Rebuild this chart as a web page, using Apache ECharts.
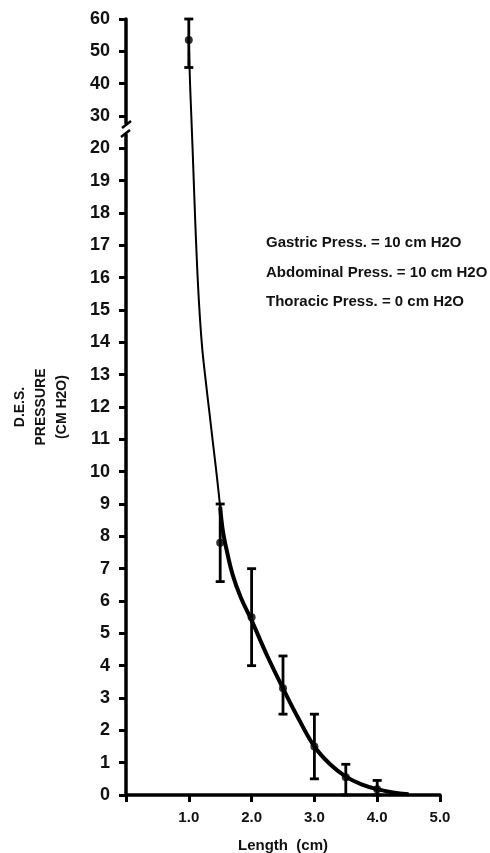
<!DOCTYPE html>
<html lang="en">
<head>
    <meta charset="UTF-8">
    <script src="https://cdn.jsdelivr.net/npm/echarts@6/dist/echarts.min.js"></script>
    <title>D.E.S. pressure vs length</title>
    <style>
        *{ margin: 0; padding: 0; }
        #chart{ width: 490px; height: 853px; background: #fff; }
    </style>
</head>
<body>
    <div id="chart"></div>
<script>
    // measured points (length in cm, pressure in cm H2O)
    var lengths = [1.0, 1.5, 2.0, 2.5, 3.0, 3.5, 4.0];
    var meanPress = [53.5, 7.8, 5.5, 3.3, 1.5, 0.55, 0.18];
    var upperPress = [60, 9.0, 7.0, 4.3, 2.5, 0.95, 0.45];
    var lowerPress = [45, 6.6, 4.0, 2.5, 0.5, 0, 0];

    // fitted curve, thin upper part and thick lower part
    var curveThinX = [1.0, 1.02, 1.04, 1.06, 1.09, 1.12, 1.16, 1.21, 1.27, 1.33, 1.39, 1.45, 1.5, 1.54];
    var curveThinY = [53.5, 40, 30, 20, 18.4, 16.9, 15.3, 13.9, 12.8, 11.8, 10.8, 9.8, 8.9, 8.2];
    var curveThickX = [1.5, 1.54, 1.6, 1.7, 1.83, 2.0, 2.25, 2.5, 2.75, 3.0, 3.25, 3.5, 3.75, 4.0, 4.25, 4.5];
    var curveThickY = [8.9, 8.2, 7.6, 6.8, 6.1, 5.4, 4.3, 3.3, 2.35, 1.5, 0.95, 0.57, 0.33, 0.18, 0.08, 0.02];

    var notes = ['Gastric Press. = 10 cm H2O', 'Abdominal Press. = 10 cm H2O', 'Thoracic Press. = 0 cm H2O'];

    // broken axis: 0-20 linear, then 30,40,50,60 one step each
    function tf(v) {
        return v <= 20 ? v : 20 + (v - 20) / 10;
    }
    function yLabel(v) {
        return v <= 20 ? String(v) : String(20 + (v - 20) * 10);
    }

    var font = 'Liberation Sans, Arial, sans-serif';
    var chart = echarts.init(document.getElementById('chart'));

    var errData = lengths.map(function (x, i) {
        return [x, tf(lowerPress[i]), tf(upperPress[i])];
    });

    var option = {
        backgroundColor: '#fff',
        animation: false,
        grid: { left: 126, right: 50, top: 19, bottom: 58, containLabel: false, outerBoundsMode: 'none' },
        xAxis: {
            type: 'value', min: 0, max: 5, interval: 1,
            name: 'Length  (cm)', nameLocation: 'middle', nameGap: 43,
            nameTextStyle: { fontFamily: font, fontWeight: 'bold', fontSize: 15, color: '#111' },
            axisLine: { lineStyle: { color: '#000', width: 3.5 } },
            axisTick: { length: 7, lineStyle: { color: '#000', width: 3 } },
            axisLabel: {
                margin: 15, fontFamily: font, fontWeight: 'bold', fontSize: 15, color: '#111',
                formatter: function (v) { return v === 0 ? '' : v.toFixed(1); }
            },
            splitLine: { show: false }
        },
        yAxis: {
            type: 'value', min: 0, max: 24, interval: 1,
            axisLine: { show: true, lineStyle: { color: '#000', width: 3.5 } },
            axisTick: { show: true, length: 7, lineStyle: { color: '#000', width: 3 } },
            axisLabel: {
                margin: 16, fontFamily: font, fontWeight: 'bold', fontSize: 18, color: '#111',
                formatter: yLabel
            },
            splitLine: { show: false }
        },
        series: [
            {
                type: 'line', smooth: 0.4, symbol: 'none',
                lineStyle: { color: '#000', width: 2 },
                data: curveThinX.map(function (x, i) { return [x, tf(curveThinY[i])]; })
            },
            {
                type: 'line', smooth: 0.4, symbol: 'none',
                lineStyle: { color: '#000', width: 4 },
                data: curveThickX.map(function (x, i) { return [x, tf(curveThickY[i])]; })
            },
            {
                type: 'custom',
                renderItem: function (params, api) {
                    var lo = api.coord([api.value(0), api.value(1)]);
                    var hi = api.coord([api.value(0), api.value(2)]);
                    var w = 4.5;
                    var st = { stroke: '#000', lineWidth: 2.8 };
                    return {
                        type: 'group',
                        children: [
                            { type: 'line', shape: { x1: lo[0], y1: lo[1], x2: hi[0], y2: hi[1] }, style: st },
                            { type: 'line', shape: { x1: hi[0] - w, y1: hi[1], x2: hi[0] + w, y2: hi[1] }, style: st },
                            { type: 'line', shape: { x1: lo[0] - w, y1: lo[1], x2: lo[0] + w, y2: lo[1] }, style: st }
                        ]
                    };
                },
                data: errData
            },
            {
                type: 'scatter', symbol: 'circle', symbolSize: 8,
                itemStyle: { color: '#000' },
                data: lengths.map(function (x, i) { return [x, tf(meanPress[i])]; })
            }
        ]
    };
    chart.setOption(option);

    // axis break mark and text annotations
    var bx = chart.convertToPixel({ xAxisIndex: 0 }, 0);
    var by = chart.convertToPixel({ yAxisIndex: 0 }, 20.6);
    var graphics = [
        { type: 'rect', shape: { x: bx - 3, y: by - 5, width: 6, height: 10 }, style: { fill: '#fff' }, z: 100 },
        { type: 'line', shape: { x1: bx - 4, y1: by - 1, x2: bx + 5, y2: by - 8 }, style: { stroke: '#000', lineWidth: 2.5 }, z: 101 },
        { type: 'line', shape: { x1: bx - 5, y1: by + 8, x2: bx + 4, y2: by + 1 }, style: { stroke: '#000', lineWidth: 2.5 }, z: 101 },
        {
            type: 'text', x: 41, y: 407, rotation: Math.PI / 2,
            style: {
                text: 'D.E.S.\nPRESSURE\n(CM H2O)', font: 'bold 14px ' + font, fill: '#111',
                align: 'center', verticalAlign: 'middle', lineHeight: 21
            }
        }
    ];
    notes.forEach(function (t, i) {
        graphics.push({
            type: 'text', x: 266, y: 243 + i * 29.5,
            style: { text: t, font: 'bold 15px ' + font, fill: '#111', verticalAlign: 'middle' }
        });
    });
    chart.setOption({ graphic: graphics });
</script>
</body>
</html>
